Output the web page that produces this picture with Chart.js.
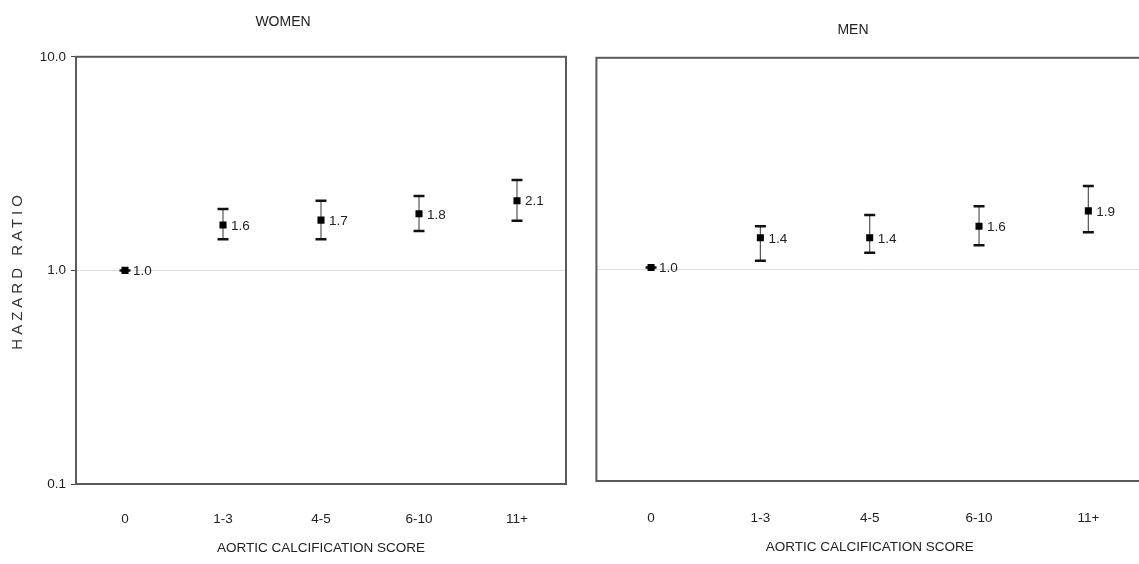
<!DOCTYPE html>
<html><head><meta charset="utf-8">
<script src="https://cdn.jsdelivr.net/npm/chart.js@4.4.1/dist/chart.umd.min.js"></script>
<style>
html,body{margin:0;padding:0;background:#fff;width:1139px;height:564px;overflow:hidden;position:relative}
canvas{position:absolute;top:0}
#women{left:-5px}
#men{left:558px}
</style></head><body>
<canvas id="women" width="576" height="564"></canvas>
<canvas id="men" width="590" height="564"></canvas>
<script>
const categories = ['0', '1-3', '4-5', '6-10', '11+'];
const yTicks = [0.1, 1, 10];
const womenHR = [1.0, 1.63, 1.72, 1.84, 2.12];
const womenLower = [1.0, 1.40, 1.40, 1.53, 1.71];
const womenUpper = [1.0, 1.94, 2.12, 2.23, 2.65];
const menHR = [1.02, 1.41, 1.41, 1.60, 1.89];
const menLower = [1.02, 1.10, 1.20, 1.30, 1.50];
const menUpper = [1.02, 1.60, 1.81, 1.99, 2.48];

const FONT = "'Liberation Sans', Arial, sans-serif";

class SpacedLogScale extends Chart.LogarithmicScale {
  drawTitle() {
    const ctx = this.ctx;
    ctx.save();
    if ('letterSpacing' in ctx) ctx.letterSpacing = '4px';
    super.drawTitle();
    ctx.restore();
  }
}
SpacedLogScale.id = 'spacedLog';
SpacedLogScale.defaults = Chart.LogarithmicScale.defaults;
Chart.register(SpacedLogScale);

const errorBars = {
  id: 'errorBars',
  beforeDatasetsDraw(chart, args, opts) {
    const {ctx, scales: {x, y}} = chart;
    ctx.save();
    opts.lower.forEach((l, i) => {
      const px = x.getPixelForValue(i);
      const yl = y.getPixelForValue(l), yh = y.getPixelForValue(opts.upper[i]);
      ctx.strokeStyle = '#555'; ctx.lineWidth = 1.2;
      ctx.beginPath(); ctx.moveTo(px, yl); ctx.lineTo(px, yh); ctx.stroke();
      ctx.strokeStyle = '#111'; ctx.lineWidth = 2.5;
      ctx.beginPath();
      ctx.moveTo(px - 5.5, yl); ctx.lineTo(px + 5.5, yl);
      ctx.moveTo(px - 5.5, yh); ctx.lineTo(px + 5.5, yh);
      ctx.stroke();
    });
    ctx.restore();
  }
};

const valueLabels = {
  id: 'valueLabels',
  afterDatasetsDraw(chart) {
    const {ctx} = chart;
    const meta = chart.getDatasetMeta(0);
    const data = chart.data.datasets[0].data;
    ctx.save();
    ctx.font = '13.5px ' + FONT;
    ctx.fillStyle = '#222';
    ctx.textAlign = 'left';
    ctx.textBaseline = 'middle';
    meta.data.forEach((pt, i) => {
      ctx.fillText(Number(data[i]).toFixed(1), pt.x + 8, pt.y + 1);
    });
    ctx.restore();
  }
};

const frame = {
  id: 'frame',
  beforeDatasetsDraw(chart) {
    const {ctx, chartArea: a} = chart;
    ctx.save();
    ctx.strokeStyle = '#5a5a5a';
    ctx.lineWidth = 2;
    ctx.strokeRect(a.left, a.top, a.right - a.left, a.bottom - a.top);
    ctx.restore();
  }
};

function makeChart(id, cfg) {
  return new Chart(document.getElementById(id), {
    type: 'line',
    data: {
      labels: categories,
      datasets: [{
        data: cfg.values,
        showLine: false,
        pointStyle: 'rect',
        pointRadius: 5,
        pointHoverRadius: 5,
        backgroundColor: '#000',
        borderColor: '#000',
        borderWidth: 0
      }]
    },
    options: {
      responsive: false,
      animation: false,
      events: [],
      layout: {padding: {left: 0, right: 0, top: 0, bottom: 0}},
      plugins: {
        legend: {display: false},
        tooltip: {enabled: false},
        title: {
          display: true,
          text: cfg.title,
          color: '#222',
          font: {family: FONT, size: 14, weight: 'normal'},
          padding: cfg.titlePad
        },
        errorBars: {lower: cfg.lower, upper: cfg.upper}
      },
      scales: {
        x: {
          type: 'category',
          offset: true,
          grid: {display: false, drawTicks: false},
          border: {display: false},
          ticks: {
            color: '#222',
            font: {family: FONT, size: 13.5},
            padding: cfg.xTickPad,
            maxRotation: 0
          },
          title: {
            display: true,
            text: 'AORTIC CALCIFICATION SCORE',
            color: '#222',
            font: {family: FONT, size: 13.5},
            padding: {top: 0, bottom: cfg.xTitlePad}
          },
          afterFit(s) { s.height = cfg.xHeight; }
        },
        y: {
          type: 'spacedLog',
          min: 0.1,
          max: 10,
          afterBuildTicks(s) { s.ticks = yTicks.map(v => ({value: v})); },
          grid: {
            color: c => (c.tick && c.tick.value === 1) ? '#dedede' : 'rgba(0,0,0,0)',
            tickColor: '#444',
            drawTicks: cfg.showYLabels,
            tickLength: 5,
            lineWidth: 1
          },
          border: {display: false},
          ticks: {
            display: cfg.showYLabels,
            color: '#222',
            font: {family: FONT, size: 13.5},
            padding: 5,
            callback: v => Number(v).toFixed(1)
          },
          title: {
            display: cfg.showYLabels,
            text: 'HAZARD RATIO',
            color: '#333',
            font: {family: FONT, size: 15},
            padding: {top: 14, bottom: 0}
          },
          afterFit(s) { s.width = cfg.yWidth; }
        }
      }
    },
    plugins: [frame, errorBars, valueLabels]
  });
}

makeChart('women', {
  title: 'WOMEN', values: womenHR, lower: womenLower, upper: womenUpper,
  titlePad: {top: 14, bottom: 26}, xTickPad: 27, xTitlePad: 8,
  xHeight: 80, yWidth: 81, showYLabels: true
});
makeChart('men', {
  title: 'MEN', values: menHR, lower: menLower, upper: menUpper,
  titlePad: {top: 22, bottom: 19}, xTickPad: 29, xTitlePad: 9,
  xHeight: 83, yWidth: 38.4, showYLabels: false
});
</script>
</body></html>
